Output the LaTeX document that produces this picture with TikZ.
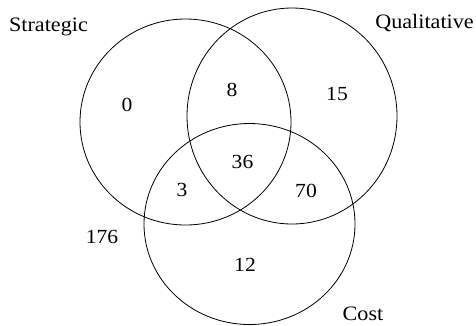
\documentclass[tikz,border=0pt]{standalone}
\usepackage{fontspec}
\setmainfont[FakeStretch=1.08]{Liberation Serif}
\begin{document}
\begin{tikzpicture}[x=1pt,y=-1pt,
  setline/.style={draw=black,line width=0.8pt},
  lbl/.style={anchor=base,inner sep=0pt,font=\fontsize{20.5}{24}\selectfont},
  num/.style={anchor=base,inner sep=0pt,font=\fontsize{20}{24}\selectfont}]
\useasboundingbox (0,0) rectangle (476,325);
\draw[setline] (185.5,122) ellipse [x radius=105.5, y radius=103];
\draw[setline] (292,116) ellipse [x radius=105, y radius=108];
\draw[setline] (249.5,224) ellipse [x radius=105.5, y radius=100.5];
\node[lbl] (strat) at (48.5,31) {Strategic};
\node[lbl] (qual) at (424.5,28.5) {Qualitative};
\node[lbl] (cost) at (363,320.5) {Cost};
\node[num] (n0) at (127,111.5) {0};
\node[num] (n8) at (232,96.5) {8};
\node[num] (n15) at (337,100.5) {15};
\node[num] (n36) at (242.5,168) {36};
\node[num] (n3) at (182,196.5) {3};
\node[num] (n70) at (306,197.5) {70};
\node[num] (n176) at (102,243) {176};
\node[num] (n12) at (245,271.5) {12};
\end{tikzpicture}
\end{document}
